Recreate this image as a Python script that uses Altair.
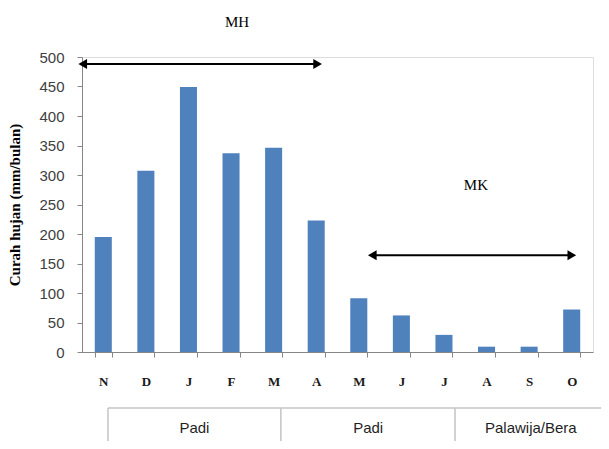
import altair as alt
import pandas as pd

# ---- data ----
month_labels = ["N", "D", "J", "F", "M", "A", "M", "J", "J", "A", "S", "O"]
rainfall = [195, 307, 449, 337, 346, 223, 91, 62, 29, 9, 9, 72]
y_ticks = [0, 50, 100, 150, 200, 250, 300, 350, 400, 450, 500]

season_names = ["MH", "MK"]
season_start = [-0.1, 6.7]      # in month-slot units
season_end = [5.65, 11.62]
season_level = [488, 164]       # arrow height (mm)
season_label_x = [3.64, 9.25]
season_label_y = [559, 283]

crop_names = ["Padi", "Padi", "Palawija/Bera"]
crop_label_x = [2.64, 6.72, 10.54]
crop_dividers = [0.61, 4.67, 8.76]
table_right = 12.6
table_top = -95
table_bottom = -175
crop_label_y = -129

# ---- tables ----
keys = [f"{m}{i}" for i, m in enumerate(month_labels)]
bars_df = pd.DataFrame({"key": keys, "label": month_labels, "value": rainfall})

head = 0.117
arrows_df = pd.DataFrame({
    "name": season_names,
    "x0": [s + head for s in season_start],
    "x1": [e - head for e in season_end],
    "y": season_level,
    "lx": season_label_x,
    "ly": season_label_y,
})
heads_left = pd.DataFrame({"x": arrows_df["x0"], "y": season_level})
heads_right = pd.DataFrame({"x": arrows_df["x1"], "y": season_level})

hline_df = pd.DataFrame({"x0": [crop_dividers[0]], "x1": [table_right], "y": [table_top]})
vline_df = pd.DataFrame({"x": crop_dividers, "y0": [table_top] * 3, "y1": [table_bottom] * 3})
crop_df = pd.DataFrame({"name": crop_names, "x": crop_label_x, "y": [crop_label_y] * 3})

W, H = 511, 295
xq = alt.Scale(domain=[0, 12], nice=False, zero=False)
yscale = alt.Scale(domain=[0, 500], nice=False)
yaxis = alt.Axis(title="Curah hujan (mm/bulan)", values=y_ticks,
                 titleFont="Liberation Serif", titleFontSize=15, titleFontWeight="bold",
                 titleColor="#000000", titlePadding=16,
                 labelFont="Liberation Sans", labelFontSize=15, labelColor="#404040",
                 labelPadding=13, labelOverlap=False, labelFlush=False,
                 tickSize=5, tickColor="#868686",
                 domainColor="#868686", grid=False)


def Y(field):
    return alt.Y(field, scale=yscale, axis=yaxis)


bars = alt.Chart(bars_df).mark_bar(color="#4F81BD", clip=False).encode(
    x=alt.X("key:N", sort=keys,
            scale=alt.Scale(paddingInner=0.6, paddingOuter=0.3),
            axis=alt.Axis(title=None,
                          labelExpr="isString(datum.value) ? substring(datum.value, 0, 1) : ''",
                          labelAngle=0, labelFont="Liberation Serif", labelFontSize=13,
                          labelFontWeight="bold", labelColor="#1a1a1a", labelPadding=18,
                          tickBand="extent", tickSize=5, tickColor="#868686",
                          domainColor="#868686")),
    y=Y("value:Q"),
)

lines = alt.Chart(arrows_df).mark_rule(color="black", strokeWidth=2, clip=False).encode(
    x=alt.X("x0:Q", scale=xq, axis=None), x2="x1:Q", y=Y("y:Q"))
lh = alt.Chart(heads_left).mark_point(shape="triangle-left", filled=True, color="black",
                                      size=100, opacity=1, clip=False).encode(
    x=alt.X("x:Q", scale=xq, axis=None), y=Y("y:Q"))
rh = alt.Chart(heads_right).mark_point(shape="triangle-right", filled=True, color="black",
                                       size=100, opacity=1, clip=False).encode(
    x=alt.X("x:Q", scale=xq, axis=None), y=Y("y:Q"))
season_text = alt.Chart(arrows_df).mark_text(font="Liberation Serif", fontSize=15,
                                             color="#000000", clip=False).encode(
    x=alt.X("lx:Q", scale=xq, axis=None), y=Y("ly:Q"), text="name:N")

hline = alt.Chart(hline_df).mark_rule(color="#C4C4C4", strokeWidth=1.5, clip=False).encode(
    x=alt.X("x0:Q", scale=xq, axis=None), x2="x1:Q", y=Y("y:Q"))
vlines = alt.Chart(vline_df).mark_rule(color="#C4C4C4", strokeWidth=1.5, clip=False).encode(
    x=alt.X("x:Q", scale=xq, axis=None), y=Y("y0:Q"), y2="y1:Q")
crop_text = alt.Chart(crop_df).mark_text(font="Liberation Sans", fontSize=15,
                                         color="#1f1f1f", clip=False).encode(
    x=alt.X("x:Q", scale=xq, axis=None), y=Y("y:Q"), text="name:N")

chart = alt.layer(bars, lines, lh, rh, season_text, hline, vlines, crop_text).resolve_scale(
    x="independent"
).properties(
    width=W, height=H,
    autosize=alt.AutoSizeParams(type="none"),
    padding={"left": 74, "top": 49, "right": 8, "bottom": 89},
).configure_view(stroke=None).configure(background="white")

chart.save("out.html", embed_options={"renderer": "svg", "actions": False})
